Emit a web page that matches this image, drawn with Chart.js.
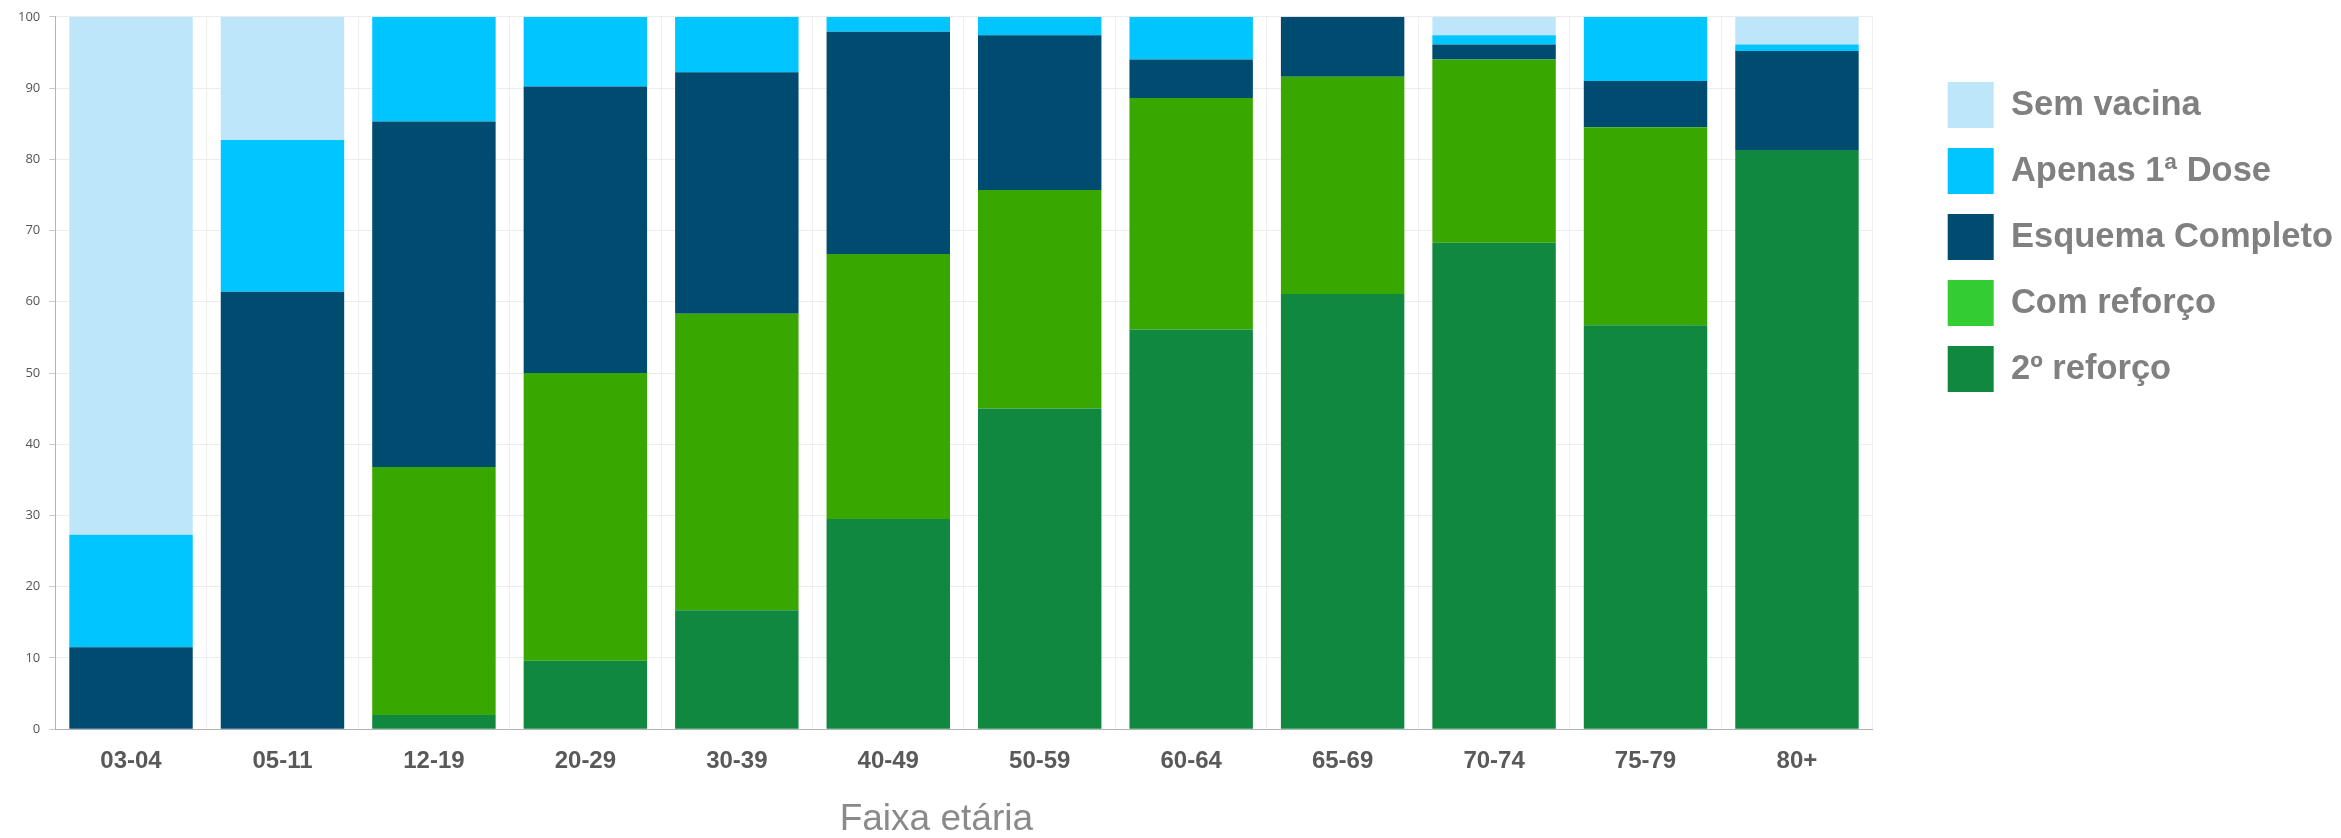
<!DOCTYPE html>
<html>
<head>
<meta charset="utf-8">
<script src="https://cdn.jsdelivr.net/npm/chart.js@4.4.0/dist/chart.umd.min.js"></script>
<style>
    html, body { margin: 0; padding: 0; background: #fff; }
</style>
</head>
<body>
<canvas id="vacChart" width="2341" height="838"></canvas>
<script>
// Faixas etárias e percentuais por situação vacinal
const ageGroups = ['03-04', '05-11', '12-19', '20-29', '30-39', '40-49', '50-59', '60-64', '65-69', '70-74', '75-79', '80+'];
const segundoReforco = [0, 0, 2.0, 9.6, 16.7, 29.5, 45.0, 56.1, 61.1, 68.3, 56.7, 81.3];
const comReforco     = [0, 0, 34.8, 40.4, 41.6, 37.2, 30.7, 32.5, 30.5, 25.7, 27.8, 0];
const esquemaCompleto = [11.5, 61.4, 48.5, 40.2, 33.9, 31.2, 21.7, 5.4, 8.4, 2.1, 6.5, 13.9];
const apenasPrimeira = [15.8, 21.3, 14.7, 9.8, 7.8, 2.1, 2.6, 6.0, 0, 1.3, 9.0, 0.9];
const semVacina      = [72.7, 17.3, 0, 0, 0, 0, 0, 0, 0, 2.6, 0, 3.9];

const seriesNames = ['2º reforço', 'Com reforço', 'Esquema Completo', 'Apenas 1ª Dose', 'Sem vacina'];
const barColors = ['#11883f', '#38a800', '#004b70', '#00c5ff', '#bee6fb'];
const legendColors = ['#11883f', '#33cc33', '#004b70', '#00c5ff', '#bee6fb'];
const yTicks = [0, 10, 20, 30, 40, 50, 60, 70, 80, 90, 100];
const xTitle = 'Faixa etária';

const seriesValues = [segundoReforco, comReforco, esquemaCompleto, apenasPrimeira, semVacina];

// push the legend away from the plot without changing row spacing
const LEGEND_GAP = 53;
const LEGEND_SHIFT = 55;
const LEGEND_DROP = 54;
const legendShift = {
    id: 'legendShift',
    beforeLayout(chart) {
        const lg = chart.legend;
        if (lg && !lg._wrapped) {
            const fit = lg.fit;
            lg.fit = function () {
                fit.call(this);
                this.width += LEGEND_GAP;
            };
            lg._wrapped = true;
        }
    },
    afterLayout(chart) {
        const lg = chart.legend;
        if (!lg) return;
        lg.left += LEGEND_SHIFT;
        lg.top += LEGEND_DROP;
    }
};

// axis title centred under the whole left part of the figure (not only the plot)
const axisTitle = {
    id: 'axisTitle',
    afterDraw(chart) {
        const c = chart.ctx;
        const x = chart.chartArea.right / 2;
        const y = chart.scales.x.bottom + 26;
        c.save();
        c.font = '37px "Liberation Sans", Arial, sans-serif';
        c.fillStyle = '#8a8a8a';
        c.textAlign = 'center';
        c.textBaseline = 'middle';
        c.fillText(xTitle, x, y);
        c.restore();
    }
};

const ctx = document.getElementById('vacChart').getContext('2d');
const chart = new Chart(ctx, {
    type: 'bar',
    data: {
        labels: ageGroups,
        datasets: seriesNames.map((name, i) => ({
            label: name,
            data: seriesValues[i],
            backgroundColor: barColors[i],
            borderWidth: 0,
            categoryPercentage: 1.0,
            barPercentage: 0.815
        }))
    },
    options: {
        responsive: false,
        animation: false,
        devicePixelRatio: 1,
        layout: {
            padding: { top: 8, left: 9, right: 0, bottom: 44 }
        },
        plugins: {
            tooltip: { enabled: false },
            legend: {
                position: 'right',
                align: 'start',
                reverse: true,
                labels: {
                    boxWidth: 46,
                    boxHeight: 46,
                    padding: 20,
                    color: '#808080',
                    font: { family: '"Liberation Sans", Arial, sans-serif', size: 34.5, weight: 'bold' },
                    generateLabels(chart) {
                        const items = Chart.defaults.plugins.legend.labels.generateLabels(chart);
                        items.forEach(it => {
                            it.fillStyle = legendColors[it.datasetIndex];
                            it.strokeStyle = legendColors[it.datasetIndex];
                            it.lineWidth = 0;
                        });
                        return items;
                    }
                }
            }
        },
        scales: {
            x: {
                stacked: true,
                grid: { color: '#efefef', drawTicks: false, offset: true },
                border: { color: '#b3b3b3', width: 1 },
                ticks: {
                    padding: 18,
                    color: '#595959',
                    font: { family: '"Liberation Sans", Arial, sans-serif', size: 24, weight: 'bold' }
                }
            },
            y: {
                stacked: true,
                min: 0,
                max: 100,
                afterBuildTicks(axis) {
                    axis.ticks = yTicks.map(v => ({ value: v }));
                },
                grid: { color: '#ececec', tickLength: 6, tickColor: '#c8c8c8' },
                border: { color: '#b3b3b3', width: 1 },
                ticks: {
                    padding: 9,
                    color: '#555',
                    font: { family: '"Open Sans", sans-serif', size: 13 }
                }
            }
        }
    },
    plugins: [legendShift, axisTitle]
});
</script>
</body>
</html>
